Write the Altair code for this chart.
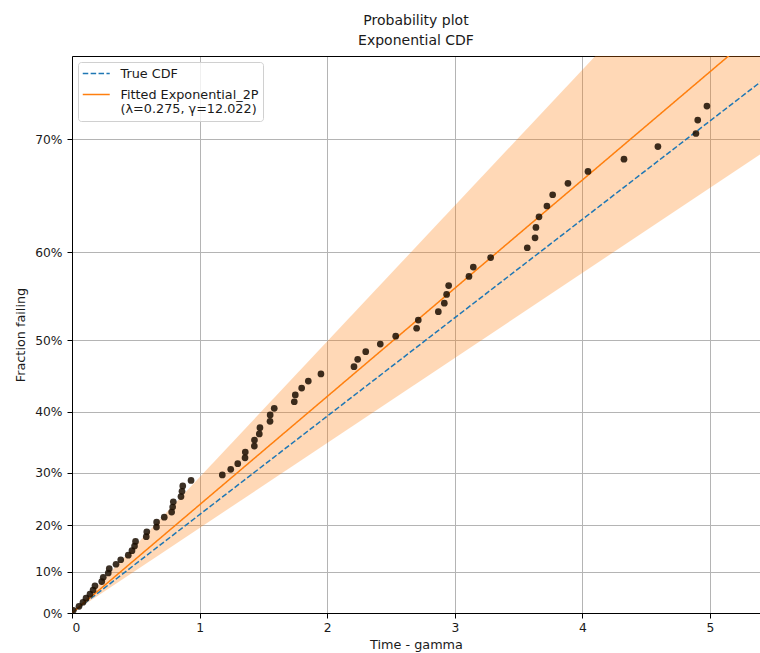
import altair as alt
import pandas as pd
import numpy as np

# ---------------- data ----------------
# failure times (time - gamma) and their plotted fraction failing
fail_time = [
    0.010, 0.055, 0.086, 0.110, 0.141, 0.165, 0.180, 0.233, 0.245, 0.284,
    0.292, 0.345, 0.382, 0.441, 0.470, 0.490, 0.498, 0.582, 0.586, 0.662,
    0.663, 0.723, 0.781, 0.789, 0.794, 0.854, 0.862, 0.868, 0.933, 1.178,
    1.244, 1.299, 1.356, 1.358, 1.429, 1.430, 1.468, 1.473, 1.552, 1.553,
    1.585, 1.742, 1.750, 1.800, 1.852, 1.951, 2.210, 2.239, 2.302, 2.416,
    2.537, 2.701, 2.714, 2.871, 2.918, 2.936, 2.952, 3.111, 3.145, 3.281,
    3.568, 3.629, 3.636, 3.660, 3.722, 3.767, 3.887, 4.044, 4.326, 4.592,
    4.890, 4.904, 4.976,
]
fail_frac = [
    0.0070, 0.0169, 0.0269, 0.0369, 0.0468, 0.0568, 0.0667, 0.0767, 0.0867, 0.0966,
    0.1066, 0.1165, 0.1265, 0.1365, 0.1464, 0.1564, 0.1663, 0.1763, 0.1863, 0.1962,
    0.2062, 0.2161, 0.2261, 0.2361, 0.2460, 0.2560, 0.2659, 0.2759, 0.2859, 0.2958,
    0.3058, 0.3157, 0.3257, 0.3357, 0.3456, 0.3556, 0.3655, 0.3755, 0.3855, 0.3954,
    0.4054, 0.4153, 0.4253, 0.4353, 0.4452, 0.4552, 0.4651, 0.4751, 0.4851, 0.4950,
    0.5050, 0.5149, 0.5249, 0.5349, 0.5448, 0.5548, 0.5647, 0.5747, 0.5847, 0.5946,
    0.6046, 0.6145, 0.6245, 0.6345, 0.6444, 0.6544, 0.6643, 0.6743, 0.6843, 0.6942,
    0.7042, 0.7141, 0.7241,
]

series_names = ["True CDF", "Fitted Exponential_2P|(λ=0.275, γ=12.022)"]
series_rates = [0.25, 0.275]          # lambda of true and fitted distribution
band_lower_rate = 0.216               # lower confidence bound (rate)
band_upper_rate = 0.345               # upper confidence bound (rate)
line_x = [0.0, 6.0]                   # ends of the straight lines

y_tick_pct = [0, 10, 20, 30, 40, 50, 60, 70]
x_ticks = [0, 1, 2, 3, 4, 5]

# ---------------- tables ----------------
pts_df = pd.DataFrame({"x": fail_time, "F": fail_frac})
lines_df = pd.DataFrame(
    [{"series": s, "rate": r, "x": xx} for s, r in zip(series_names, series_rates) for xx in line_x]
)
band_df = pd.DataFrame({"x": line_x, "lo_rate": band_lower_rate, "hi_rate": band_upper_rate})

y_tick_vals = [float(-np.log(1 - p / 100.0)) for p in y_tick_pct]

# ---------------- layout ----------------
W, H = 688, 557
XMAX = 5.392
YMAX = 1.415
FONT = "DejaVu Sans"
GRID = "#b4b4b4"
TXT = "#1a1a1a"

xscale = alt.Scale(domain=[0, XMAX], nice=False, zero=False)
yscale = alt.Scale(domain=[0, YMAX], nice=False, zero=False)

x_axis = alt.Axis(
    values=x_ticks, format="d", title="Time - gamma", grid=True, gridColor=GRID,
    domainColor="black", tickColor="black", tickSize=5, labelPadding=3,
    labelFontSize=12.3, titleFontSize=12.8, titleFontWeight="normal",
    labelColor=TXT, titleColor=TXT, titlePadding=5,
)
y_axis = alt.Axis(
    values=y_tick_vals, labelExpr="format(1 - exp(-datum.value), '.0%')",
    title="Fraction failing", grid=True, gridColor=GRID,
    domainColor="black", tickColor="black", tickSize=5, labelPadding=5,
    labelFontSize=12.3, titleFontSize=12.8, titleFontWeight="normal",
    labelColor=TXT, titleColor=TXT, titlePadding=7,
)

band = (
    alt.Chart(band_df)
    .transform_calculate(lo="datum.lo_rate * datum.x", hi="datum.hi_rate * datum.x")
    .mark_area(color="#ff7f0e", opacity=0.3, clip=True)
    .encode(
        x=alt.X("x:Q", scale=xscale, axis=x_axis),
        y=alt.Y("lo:Q", scale=yscale, axis=y_axis),
        y2="hi:Q",
    )
)

legend = alt.Legend(
    title=None, orient="none", legendX=6, legendY=6, symbolType="M-1,0H3",
    symbolSize=182, symbolStrokeWidth=1.5, labelFont=FONT, labelFontSize=12.8,
    labelColor=TXT, labelOffset=23.5, labelLimit=400, rowPadding=6,
    labelExpr="split(datum.label, '|')",
    fillColor="rgba(255,255,255,0.8)", strokeColor="#d0d0d0", cornerRadius=3,
    padding=4,
)

lines = (
    alt.Chart(lines_df)
    .transform_calculate(y="datum.rate * datum.x")
    .mark_line(clip=True, strokeWidth=1.5)
    .encode(
        x=alt.X("x:Q", scale=xscale, axis=None),
        y=alt.Y("y:Q", scale=yscale),
        color=alt.Color("series:N", scale=alt.Scale(domain=series_names, range=["#1f77b4", "#ff7f0e"]), legend=legend),
        strokeDash=alt.StrokeDash("series:N", scale=alt.Scale(domain=series_names, range=[[5.5, 2.4], [1, 0]]), legend=legend),
    )
)

points = (
    alt.Chart(pts_df)
    .transform_calculate(y="-log(1 - datum.F)")
    .mark_circle(size=45, color="#1a0d00", opacity=0.85, clip=True)
    .encode(
        x=alt.X("x:Q", scale=xscale, axis=None),
        y=alt.Y("y:Q", scale=yscale),
    )
)

top_frame = (
    alt.Chart(band_df)
    .mark_point(opacity=0)
    .encode(
        x=alt.X("x:Q", scale=xscale, axis=alt.Axis(orient="top", labels=False, ticks=False, grid=False,
                                                   domain=True, domainColor="black", title=None)),
    )
)

chart = (
    alt.layer(band, lines, points, top_frame)
    .resolve_axis(x="independent")
    .properties(
        width=W, height=H,
        autosize=alt.AutoSizeParams(type="none"),
        padding={"left": 72, "top": 56, "right": 0, "bottom": 40},
        title=alt.Title(["Probability plot", "Exponential CDF"], fontSize=14, font=FONT,
                        fontWeight="normal", color=TXT, anchor="middle", offset=8, lineHeight=20),
    )
    .configure_view(stroke=None)
    .configure_axis(labelFont=FONT, titleFont=FONT)
)

chart.save("out.html", embed_options={"renderer": "svg", "actions": False})
